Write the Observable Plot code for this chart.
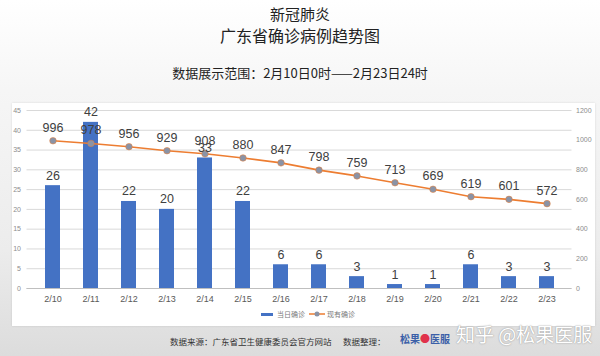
<!DOCTYPE html>
<html><head><meta charset="utf-8">
<script src="https://cdn.jsdelivr.net/npm/d3@7"></script>
<script src="https://cdn.jsdelivr.net/npm/@observablehq/plot@0.6"></script>
<style>
html,body{margin:0;padding:0;}
body{width:600px;height:356px;position:relative;overflow:hidden;
 background:linear-gradient(to bottom,#ffffff 0px,#f6f6f6 90px,#ececec 250px,#dcdcdc 356px);
 font-family:"Noto Sans CJK SC","Noto Sans",sans-serif;color:#222;}
.t{position:absolute;left:0;width:600px;text-align:center;white-space:nowrap;}
#panel{position:absolute;left:12px;top:103px;width:583px;height:223px;background:#fff;
 box-shadow:0 0 2px rgba(0,0,0,0.12);}
#chart{position:absolute;left:0;top:100px;}
#legend{position:absolute;top:309px;left:261px;font-size:7px;color:#7a7a7a;display:flex;align-items:center;white-space:nowrap;}
#footer1{position:absolute;top:335px;left:170px;font-size:8.5px;color:#333;white-space:nowrap;}
#footer2{position:absolute;top:335px;left:343px;font-size:8.5px;color:#333;white-space:nowrap;}
#logo{position:absolute;top:331px;left:400px;font-size:10px;font-weight:bold;white-space:nowrap;}
#wm{position:absolute;top:320px;left:456px;font-size:19px;color:#fff;white-space:nowrap;
 text-shadow:0 0 1px #9a9a9a,0 0 2px #b0b0b0;}
</style></head>
<body>
<div class="t" style="top:3px;font-size:15px;">新冠肺炎</div>
<div class="t" style="top:23px;font-size:16px;">广东省确诊病例趋势图</div>
<div class="t" style="top:63px;font-size:13px;">数据展示范围：2月10日0时——2月23日24时</div>
<div id="panel"></div>
<div id="chart"></div>
<div id="legend">
 <span style="display:inline-block;width:12px;height:3px;background:#4472C4;margin-right:4px;"></span>当日确诊
 <svg width="16" height="8" style="margin:0 2px 0 4px;"><line x1="0" y1="4" x2="16" y2="4" stroke="#ED7D31" stroke-width="1.5"/><circle cx="8" cy="4" r="2.5" fill="#8a93a6"/></svg>现有确诊
</div>
<div id="footer1">数据来源：广东省卫生健康委员会官方网站</div>
<div id="footer2">数据整理：</div>
<div id="logo"><span style="color:#3b5fa8">松果</span><span style="color:#e0324b;">●</span><span style="color:#3b5fa8">医服</span></div>
<div id="wm">知乎 @松果医服</div>
<script>
const dates = ["2/10","2/11","2/12","2/13","2/14","2/15","2/16","2/17","2/18","2/19","2/20","2/21","2/22","2/23"];
const newCases = [26,42,22,20,33,22,6,6,3,1,1,6,3,3];
const activeCases = [996,978,956,929,908,880,847,798,759,713,669,619,601,572];
const leftTicks = [0,5,10,15,20,25,30,35,40,45];
const rightTicks = [0,200,400,600,800,1000,1200];

const LMAX = 45, RMAX = 1200;
const toLeft = v => v * LMAX / RMAX;
const data = dates.map((d,i)=>({date:d, n:newCases[i], a:activeCases[i]}));
const numFont = "Liberation Sans, Arial, sans-serif";

const chart = Plot.plot({
  width: 600, height: 226,
  marginLeft: 26.5, marginRight: 28.5, marginTop: 10, marginBottom: 38,
  style: {fontFamily: numFont, background: "transparent"},
  x: {domain: dates, paddingInner: 0.61, paddingOuter: 0.305, label: null},
  y: {domain: [0, LMAX], label: null},
  marks: [
    Plot.gridY(leftTicks, {stroke: "#d9d9d9", strokeOpacity: 1}),
    Plot.ruleY([0], {stroke: "#bfbfbf"}),
    Plot.axisY(leftTicks, {anchor: "left", tickSize: 0, tickPadding: 6, fontSize: 7, fill: "#8c8c8c", label: null}),
    Plot.axisY(rightTicks.map(toLeft), {anchor: "right", tickSize: 0, tickPadding: 4, fontSize: 7, fill: "#8c8c8c",
      tickFormat: d => String(Math.round(d * RMAX / LMAX)), label: null}),
    Plot.axisX({tickSize: 0, tickPadding: 7, fontSize: 9, fill: "#595959", label: null}),
    Plot.barY(data, {x: "date", y: "n", fill: "#4472C4"}),
    Plot.line(data, {x: "date", y: d => toLeft(d.a), stroke: "#ED7D31", strokeWidth: 1.6}),
    Plot.dot(data, {x: "date", y: d => toLeft(d.a), r: 3.3, fill: "#8a93a6", stroke: "#ED7D31", strokeWidth: 0.5}),
    Plot.text(data, {x: "date", y: "n", text: d => String(d.n), dy: -10, fontSize: 12.5, fill: "#404040"}),
    Plot.text(data, {x: "date", y: d => toLeft(d.a), text: d => String(d.a), dy: -13, fontSize: 12.5, fill: "#404040"})
  ]
});
document.getElementById("chart").appendChild(chart);
</script>
</body></html>
